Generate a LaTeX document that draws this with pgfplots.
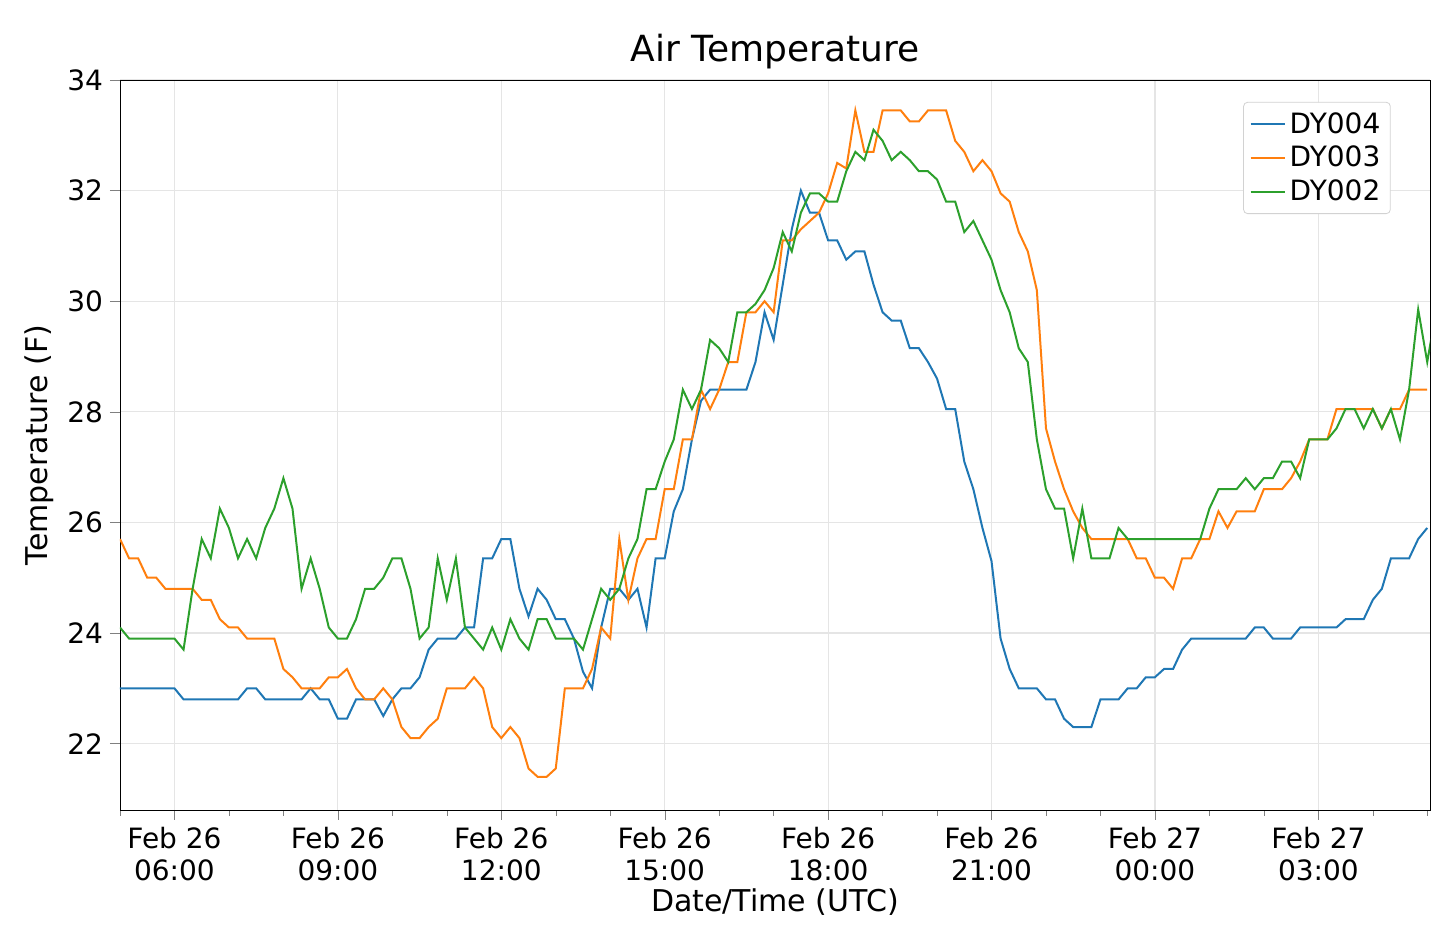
\documentclass[border=0pt]{standalone}
\usepackage{pgfplots}
\pgfplotsset{compat=1.18}
\usepackage{pgfplotstable}
\usepackage{fontspec}
\setmainfont{DejaVu Sans}
\definecolor{cA}{HTML}{1F77B4}
\definecolor{cB}{HTML}{FF7F0E}
\definecolor{cC}{HTML}{2CA02C}
% values every 10 minutes starting Feb 26 05:00 UTC
\pgfplotstableread[row sep=\\]{
t\\
23.0\\ 23.0\\ 23.0\\ 23.0\\ 23.0\\ 23.0\\ 23.0\\ 22.8\\ 22.8\\ 22.8\\
22.8\\ 22.8\\ 22.8\\ 22.8\\ 23.0\\ 23.0\\ 22.8\\ 22.8\\ 22.8\\ 22.8\\
22.8\\ 23.0\\ 22.8\\ 22.8\\ 22.45\\ 22.45\\ 22.8\\ 22.8\\ 22.8\\ 22.5\\
22.8\\ 23.0\\ 23.0\\ 23.2\\ 23.7\\ 23.9\\ 23.9\\ 23.9\\ 24.1\\ 24.1\\
25.35\\ 25.35\\ 25.7\\ 25.7\\ 24.8\\ 24.3\\ 24.8\\ 24.6\\ 24.25\\ 24.25\\
23.9\\ 23.3\\ 23.0\\ 24.1\\ 24.8\\ 24.8\\ 24.6\\ 24.8\\ 24.1\\ 25.35\\
25.35\\ 26.2\\ 26.6\\ 27.5\\ 28.2\\ 28.4\\ 28.4\\ 28.4\\ 28.4\\ 28.4\\
28.9\\ 29.8\\ 29.3\\ 30.3\\ 31.3\\ 32.0\\ 31.6\\ 31.6\\ 31.1\\ 31.1\\
30.75\\ 30.9\\ 30.9\\ 30.3\\ 29.8\\ 29.65\\ 29.65\\ 29.15\\ 29.15\\ 28.9\\
28.6\\ 28.05\\ 28.05\\ 27.1\\ 26.6\\ 25.9\\ 25.3\\ 23.9\\ 23.35\\ 23.0\\
23.0\\ 23.0\\ 22.8\\ 22.8\\ 22.45\\ 22.3\\ 22.3\\ 22.3\\ 22.8\\ 22.8\\
22.8\\ 23.0\\ 23.0\\ 23.2\\ 23.2\\ 23.35\\ 23.35\\ 23.7\\ 23.9\\ 23.9\\
23.9\\ 23.9\\ 23.9\\ 23.9\\ 23.9\\ 24.1\\ 24.1\\ 23.9\\ 23.9\\ 23.9\\
24.1\\ 24.1\\ 24.1\\ 24.1\\ 24.1\\ 24.25\\ 24.25\\ 24.25\\ 24.6\\ 24.8\\
25.35\\ 25.35\\ 25.35\\ 25.7\\ 25.9\\
}\dyfour
\pgfplotstableread[row sep=\\]{
t\\
25.7\\ 25.35\\ 25.35\\ 25.0\\ 25.0\\ 24.8\\ 24.8\\ 24.8\\ 24.8\\ 24.6\\
24.6\\ 24.25\\ 24.1\\ 24.1\\ 23.9\\ 23.9\\ 23.9\\ 23.9\\ 23.35\\ 23.2\\
23.0\\ 23.0\\ 23.0\\ 23.2\\ 23.2\\ 23.35\\ 23.0\\ 22.8\\ 22.8\\ 23.0\\
22.8\\ 22.3\\ 22.1\\ 22.1\\ 22.3\\ 22.45\\ 23.0\\ 23.0\\ 23.0\\ 23.2\\
23.0\\ 22.3\\ 22.1\\ 22.3\\ 22.1\\ 21.55\\ 21.4\\ 21.4\\ 21.55\\ 23.0\\
23.0\\ 23.0\\ 23.35\\ 24.1\\ 23.9\\ 25.7\\ 24.6\\ 25.35\\ 25.7\\ 25.7\\
26.6\\ 26.6\\ 27.5\\ 27.5\\ 28.4\\ 28.05\\ 28.4\\ 28.9\\ 28.9\\ 29.8\\
29.8\\ 30.0\\ 29.8\\ 31.1\\ 31.1\\ 31.3\\ 31.45\\ 31.6\\ 31.95\\ 32.5\\
32.4\\ 33.45\\ 32.7\\ 32.7\\ 33.45\\ 33.45\\ 33.45\\ 33.25\\ 33.25\\ 33.45\\
33.45\\ 33.45\\ 32.9\\ 32.7\\ 32.35\\ 32.55\\ 32.35\\ 31.95\\ 31.8\\ 31.25\\
30.9\\ 30.2\\ 27.7\\ 27.1\\ 26.6\\ 26.2\\ 25.9\\ 25.7\\ 25.7\\ 25.7\\
25.7\\ 25.7\\ 25.35\\ 25.35\\ 25.0\\ 25.0\\ 24.8\\ 25.35\\ 25.35\\ 25.7\\
25.7\\ 26.2\\ 25.9\\ 26.2\\ 26.2\\ 26.2\\ 26.6\\ 26.6\\ 26.6\\ 26.8\\
27.1\\ 27.5\\ 27.5\\ 27.5\\ 28.05\\ 28.05\\ 28.05\\ 28.05\\ 28.05\\ 27.7\\
28.05\\ 28.05\\ 28.4\\ 28.4\\ 28.4\\
}\dythree
\pgfplotstableread[row sep=\\]{
t\\
24.1\\ 23.9\\ 23.9\\ 23.9\\ 23.9\\ 23.9\\ 23.9\\ 23.7\\ 24.8\\ 25.7\\
25.35\\ 26.25\\ 25.9\\ 25.35\\ 25.7\\ 25.35\\ 25.9\\ 26.25\\ 26.8\\ 26.25\\
24.8\\ 25.35\\ 24.8\\ 24.1\\ 23.9\\ 23.9\\ 24.25\\ 24.8\\ 24.8\\ 25.0\\
25.35\\ 25.35\\ 24.8\\ 23.9\\ 24.1\\ 25.35\\ 24.6\\ 25.35\\ 24.1\\ 23.9\\
23.7\\ 24.1\\ 23.7\\ 24.25\\ 23.9\\ 23.7\\ 24.25\\ 24.25\\ 23.9\\ 23.9\\
23.9\\ 23.7\\ 24.25\\ 24.8\\ 24.6\\ 24.8\\ 25.35\\ 25.7\\ 26.6\\ 26.6\\
27.1\\ 27.5\\ 28.4\\ 28.05\\ 28.4\\ 29.3\\ 29.15\\ 28.9\\ 29.8\\ 29.8\\
29.95\\ 30.2\\ 30.6\\ 31.25\\ 30.9\\ 31.6\\ 31.95\\ 31.95\\ 31.8\\ 31.8\\
32.35\\ 32.7\\ 32.55\\ 33.1\\ 32.9\\ 32.55\\ 32.7\\ 32.55\\ 32.35\\ 32.35\\
32.2\\ 31.8\\ 31.8\\ 31.25\\ 31.45\\ 31.1\\ 30.75\\ 30.2\\ 29.8\\ 29.15\\
28.9\\ 27.5\\ 26.6\\ 26.25\\ 26.25\\ 25.35\\ 26.25\\ 25.35\\ 25.35\\ 25.35\\
25.9\\ 25.7\\ 25.7\\ 25.7\\ 25.7\\ 25.7\\ 25.7\\ 25.7\\ 25.7\\ 25.7\\
26.25\\ 26.6\\ 26.6\\ 26.6\\ 26.8\\ 26.6\\ 26.8\\ 26.8\\ 27.1\\ 27.1\\
26.8\\ 27.5\\ 27.5\\ 27.5\\ 27.7\\ 28.05\\ 28.05\\ 27.7\\ 28.05\\ 27.7\\
28.05\\ 27.5\\ 28.4\\ 29.85\\ 28.9\\ 29.85\\
}\dytwo
\begin{document}
\begin{tikzpicture}
\begin{axis}[name=ax,
  scale only axis, width=655pt, height=365pt,
  xmin=5.0, xmax=29.05, ymin=20.8, ymax=34,
  xtick={6,9,...,27},
  xticklabels={{Feb 26\\06:00},{Feb 26\\09:00},{Feb 26\\12:00},{Feb 26\\15:00},{Feb 26\\18:00},{Feb 26\\21:00},{Feb 27\\00:00},{Feb 27\\03:00}},
  xticklabel style={align=center},
  minor xtick={5,7,8,10,11,13,14,16,17,19,20,22,23,25,26,28,29},
  ytick={22,24,...,34},
  tick align=outside, tick pos=left,
  major tick length=5pt, minor tick length=3pt,
  grid=major, major grid style={gray!20, line width=0.6pt},
  /pgf/number format/assume math mode=true,
  tick label style={font=\fontsize{14}{16}\selectfont},
  label style={font=\fontsize{15}{17}\selectfont},
  xlabel={Date/Time (UTC)}, ylabel={Temperature (F)},
  xlabel style={yshift=3pt},
  title={Air Temperature}, title style={font=\fontsize{18}{20}\selectfont, yshift=-4pt},
  legend pos=north east,
  legend style={font=\fontsize{14}{16}\selectfont, draw=gray!35, rounded corners=2pt, row sep=1pt, inner sep=3pt},
  legend cell align=left,
  every axis plot/.append style={line width=1pt},
]
\addplot[cA, no marks] table[x expr=5+\coordindex/6, y index=0] {\dyfour};
\addlegendentry{DY004}
\addplot[cB, no marks] table[x expr=5+\coordindex/6, y index=0] {\dythree};
\addlegendentry{DY003}
\addplot[cC, no marks] table[x expr=5+\coordindex/6, y index=0] {\dytwo};
\addlegendentry{DY002}
\end{axis}
\path[use as bounding box] ([xshift=-60pt,yshift=-70pt]ax.south west) rectangle ([xshift=5pt,yshift=40pt]ax.north east);
\end{tikzpicture}
\end{document}
